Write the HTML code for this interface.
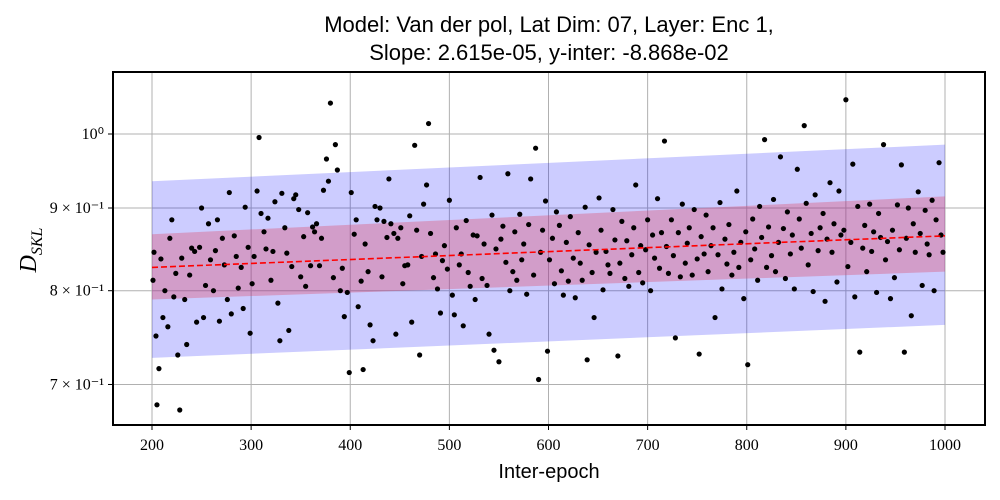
<!DOCTYPE html>
<html><head><meta charset="utf-8"><style>
body{margin:0;background:#fff;}
svg{display:block;}
.t{font-family:"Liberation Sans",sans-serif;}
.s{font-family:"Liberation Serif",serif;}
</style></head><body>
<svg id="chart" width="1000" height="500" xmlns="http://www.w3.org/2000/svg">
<text class="t" x="549" y="32" font-size="22" text-anchor="middle">Model: Van der pol, Lat Dim: 07, Layer: Enc 1,</text>
<text class="t" x="549" y="60" font-size="22" text-anchor="middle">Slope: 2.615e-05, y-inter: -8.868e-02</text>
<g id="grid"></g>
<g id="bands"></g>
<g id="pts"></g>
<g id="fit"></g>
<rect x="113" y="72" width="872" height="353" fill="none" stroke="#000" stroke-width="2"/>
<g id="ticks"></g>
<text class="t" x="549" y="478" font-size="20" text-anchor="middle">Inter-epoch</text>
<text class="s" transform="translate(36,250) rotate(-90)" font-size="24" font-style="italic" text-anchor="middle">D<tspan font-size="16" dy="6">SKL</tspan></text>
</svg>
<script>
const xTicks=[200,300,400,500,600,700,800,900,1000];
const yTicks=[0.7,0.8,0.9,1.0];
const yTickLabels=["7 × 10⁻¹","8 × 10⁻¹","9 × 10⁻¹","10⁰"];
const fitEnds=[0.827,0.865];
const outerUpper=[0.935,0.985];
const outerLower=[0.727,0.762];
const innerUpper=[0.867,0.915];
const innerLower=[0.790,0.822];
const ptX=[201,202,204,205,207,209,211,213,216,218,220,222,224,226,228,230,233,235,238,240,243,245,248,250,252,254,257,259,262,264,266,268,271,273,276,278,280,283,285,287,290,292,294,297,299,301,303,306,308,310,313,315,317,320,322,324,327,329,331,334,336,338,341,343,345,348,350,353,355,357,360,362,364,366,369,371,373,376,378,380,383,385,387,390,392,394,397,399,401,404,406,408,411,413,415,418,420,423,425,427,430,432,434,437,439,441,444,446,448,451,453,455,458,460,462,465,467,470,472,474,477,479,481,484,486,488,491,493,495,498,500,503,505,507,510,512,514,517,519,521,524,526,528,531,533,535,538,540,543,545,547,550,552,554,557,559,561,564,566,568,571,573,575,578,580,582,585,587,590,592,594,597,599,601,604,606,608,611,613,615,618,620,622,625,627,630,632,634,637,639,641,644,646,648,651,653,655,658,660,662,665,667,670,672,674,677,679,681,684,686,688,691,693,695,698,700,703,705,707,710,712,714,717,719,721,724,726,728,731,733,735,738,740,742,745,747,750,752,754,757,759,761,764,766,768,771,773,775,778,780,782,785,787,790,792,794,797,799,801,804,806,808,811,813,815,818,820,822,825,827,829,832,834,837,839,841,844,846,848,851,853,855,858,860,862,865,867,869,872,874,877,879,881,884,886,888,891,893,895,898,900,902,905,907,909,912,914,917,919,921,924,926,928,931,933,935,938,940,942,945,947,949,952,954,956,959,961,963,966,968,970,973,975,977,980,982,984,987,989,991,994,996,998];
const ptY=[0.812,0.845,0.750,0.680,0.716,0.837,0.770,0.800,0.760,0.862,0.885,0.793,0.820,0.730,0.675,0.838,0.790,0.741,0.818,0.850,0.846,0.765,0.851,0.900,0.770,0.806,0.880,0.836,0.800,0.847,0.885,0.766,0.862,0.830,0.790,0.920,0.774,0.865,0.840,0.803,0.827,0.780,0.901,0.851,0.753,0.808,0.840,0.922,0.995,0.893,0.870,0.849,0.887,0.812,0.846,0.908,0.786,0.745,0.919,0.875,0.844,0.756,0.828,0.912,0.917,0.898,0.816,0.864,0.805,0.894,0.829,0.876,0.870,0.880,0.829,0.862,0.923,0.965,0.935,1.045,0.815,0.985,0.950,0.800,0.826,0.771,0.798,0.712,0.920,0.867,0.885,0.782,0.811,0.715,0.855,0.822,0.762,0.745,0.902,0.885,0.900,0.816,0.883,0.863,0.938,0.880,0.868,0.752,0.862,0.875,0.808,0.829,0.830,0.890,0.765,0.984,0.872,0.730,0.840,0.905,0.930,1.015,0.868,0.815,0.843,0.802,0.775,0.835,0.853,0.825,0.910,0.795,0.773,0.875,0.830,0.843,0.761,0.884,0.821,0.805,0.866,0.790,0.865,0.940,0.814,0.855,0.806,0.752,0.891,0.735,0.849,0.723,0.861,0.877,0.833,0.945,0.800,0.822,0.870,0.812,0.892,0.836,0.855,0.796,0.879,0.938,0.818,0.980,0.705,0.845,0.872,0.909,0.734,0.836,0.862,0.808,0.895,0.878,0.823,0.795,0.857,0.811,0.889,0.838,0.792,0.869,0.832,0.812,0.901,0.725,0.854,0.821,0.770,0.845,0.913,0.872,0.801,0.846,0.830,0.820,0.898,0.860,0.729,0.832,0.883,0.814,0.859,0.805,0.842,0.875,0.930,0.821,0.853,0.809,0.848,0.885,0.800,0.866,0.838,0.912,0.826,0.869,0.990,0.852,0.820,0.885,0.841,0.748,0.869,0.816,0.905,0.832,0.856,0.875,0.818,0.898,0.837,0.731,0.864,0.843,0.891,0.822,0.853,0.875,0.770,0.842,0.907,0.802,0.861,0.831,0.879,0.818,0.845,0.922,0.827,0.857,0.791,0.870,0.720,0.836,0.886,0.849,0.812,0.902,0.863,0.992,0.827,0.876,0.841,0.911,0.822,0.857,0.968,0.874,0.814,0.895,0.843,0.866,0.802,0.951,0.886,0.850,1.012,0.906,0.830,0.868,0.799,0.917,0.847,0.875,0.893,0.788,0.861,0.933,0.845,0.880,0.810,0.922,0.866,0.872,1.050,0.828,0.857,0.958,0.793,0.902,0.733,0.850,0.878,0.822,0.905,0.846,0.870,0.798,0.893,0.863,0.985,0.836,0.858,0.791,0.872,0.815,0.904,0.848,0.957,0.733,0.862,0.900,0.772,0.880,0.845,0.921,0.868,0.806,0.897,0.855,0.842,0.910,0.800,0.885,0.960,0.866,0.845,0.792];
const X0=113,X1=985,Y0=72,Y1=425;
const xs=v=>152+(v-200)*(945-152)/800;
const ys=v=>134-Math.log10(v)*1617;
const NS="http://www.w3.org/2000/svg";
function mk(tag,attrs,parent){const e=document.createElementNS(NS,tag);for(const k in attrs)e.setAttribute(k,attrs[k]);parent.appendChild(e);return e;}
const grid=document.getElementById('grid'),ticks=document.getElementById('ticks');
xTicks.forEach(t=>{const x=xs(t);
 const g=mk('line',{x1:x,x2:x,y1:Y0,y2:Y1,stroke:'#b0b0b0','stroke-width':1},grid);
 
 
 const tk=mk('line',{x1:x,x2:x,y1:Y1,y2:Y1+5,stroke:'#000'},ticks);
 
 
 const l=mk('text',{x:x,y:Y1+25,'font-size':16,'text-anchor':'middle',class:'s'},ticks);l.textContent=t;
 
 
});
yTicks.forEach((t,i)=>{const y=ys(t);
 const g=mk('line',{x1:X0,x2:X1,y1:y,y2:y,stroke:'#b0b0b0','stroke-width':1},grid);
 
 
 const tk=mk('line',{x1:X0-5,x2:X0,y1:y,y2:y,stroke:'#000'},ticks);
 
 
 const l=mk('text',{x:X0-9,y:y+5,'font-size':16,'text-anchor':'end',class:'s'},ticks);l.textContent=yTickLabels[i];
 
 
});
const bands=document.getElementById('bands');
function band(up,lo,fill){return mk('polygon',{points:`${xs(200)},${ys(up[0])} ${xs(1000)},${ys(up[1])} ${xs(1000)},${ys(lo[1])} ${xs(200)},${ys(lo[0])}`,fill:fill},bands);}
const ob=band(outerUpper,outerLower,'rgba(0,0,255,0.2)');


const ib=band(innerUpper,innerLower,'rgba(220,70,100,0.35)');


const pts=document.getElementById('pts');
const n=Math.min(ptX.length,ptY.length);
for(let i=0;i<n;i++){const c=mk('circle',{cx:xs(ptX[i]),cy:ys(ptY[i]),r:2.6,fill:'#000'},pts);
 
 
}
const fl=mk('line',{x1:xs(200),y1:ys(fitEnds[0]),x2:xs(1000),y2:ys(fitEnds[1]),stroke:'#ff0000','stroke-width':1.6,'stroke-dasharray':'6,3'},document.getElementById('fit'));


</script>
</body></html>
